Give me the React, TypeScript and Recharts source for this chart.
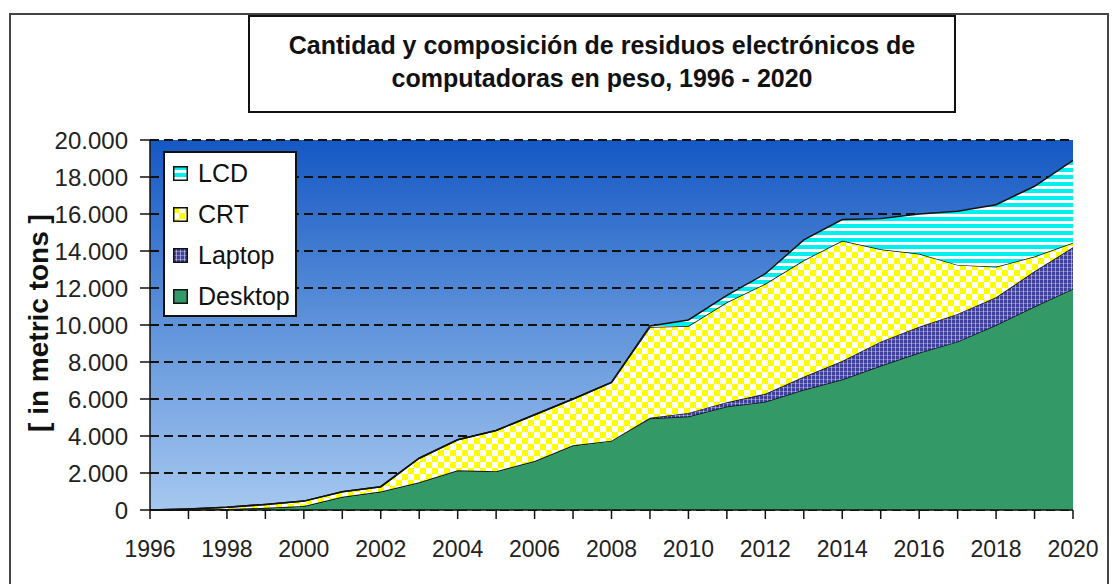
import { AreaChart, Area, XAxis, YAxis, CartesianGrid } from 'recharts';

const years = [
  1996, 1997, 1998, 1999, 2000, 2001, 2002, 2003, 2004, 2005, 2006, 2007, 2008,
  2009, 2010, 2011, 2012, 2013, 2014, 2015, 2016, 2017, 2018, 2019, 2020,
];
const desktop = [
  0, 20, 50, 120, 220, 720, 1000, 1500, 2150, 2100, 2650, 3500, 3750,
  4950, 5050, 5600, 5850, 6500, 7050, 7800, 8500, 9100, 10000, 11000, 11950,
];
const laptop = [
  0, 0, 0, 0, 0, 0, 0, 0, 0, 0, 0, 0, 0,
  40, 200, 230, 430, 700, 1000, 1300, 1400, 1500, 1500, 1900, 2250,
];
const crt = [
  0, 40, 100, 180, 260, 270, 260, 1300, 1650, 2200, 2500, 2500, 3150,
  4900, 4700, 5400, 5950, 6300, 6500, 5000, 3950, 2650, 1650, 800, 250,
];
const lcd = [
  0, 0, 0, 0, 0, 0, 0, 0, 0, 0, 0, 0, 0,
  60, 320, 370, 540, 1100, 1150, 1650, 2150, 2900, 3350, 3800, 4450,
];
const yTicks = [0, 2000, 4000, 6000, 8000, 10000, 12000, 14000, 16000, 18000, 20000];

const data = years.map((year, i) => ({
  year,
  desktop: desktop[i],
  laptop: laptop[i],
  crt: crt[i],
  lcd: lcd[i],
}));

// stacking order bottom -> top
const series = [
  { key: 'desktop', name: 'Desktop', fill: '#339966' },
  { key: 'laptop', name: 'Laptop', fill: 'url(#laptopPat)' },
  { key: 'crt', name: 'CRT', fill: 'url(#crtPat)' },
  { key: 'lcd', name: 'LCD', fill: 'url(#lcdPat)' },
];

const FONT = '"Liberation Sans", Arial, sans-serif';

const fmt = (v: number) => String(v).replace(/\B(?=(\d{3})+(?!\d))/g, '.');

function XTick({ x, y, payload }: any) {
  if (payload.value % 2 !== 0) return <g />;
  return (
    <text x={x} y={y} dy={36} textAnchor="middle" fill="#222" fontSize={23} fontFamily={FONT}>
      {payload.value}
    </text>
  );
}

export default function App() {
  return (
    <div style={{ position: 'absolute', left: 0, top: 0, width: 1114, height: 584, background: '#fff', overflow: 'hidden' }}>
      {/* outer frame */}
      <div
        style={{
          position: 'absolute',
          left: 9,
          top: 13,
          width: 1100,
          height: 600,
          border: '2px solid #444',
          boxSizing: 'border-box',
        }}
      />

      <div style={{ position: 'absolute', left: 0, top: 0 }}>
        <AreaChart width={1114} height={584} data={data} margin={{ top: 140, right: 41, bottom: 0, left: 0 }}>
          <defs>
            <linearGradient id="bg" x1="0" y1="0" x2="0" y2="1">
              <stop offset="0%" stopColor="#1558c4" />
              <stop offset="50%" stopColor="#5f93da" />
              <stop offset="100%" stopColor="#a6c8f0" />
            </linearGradient>
            <pattern id="lcdPat" width="7" height="7" patternUnits="userSpaceOnUse">
              <rect width="7" height="7" fill="#ffffff" />
              <rect width="7" height="4" fill="#00f0f0" />
            </pattern>
            <pattern id="crtPat" width="12" height="12" patternUnits="userSpaceOnUse">
              <rect width="12" height="12" fill="#ffffff" />
              <rect width="6" height="6" fill="#ffff00" />
              <rect x="6" y="6" width="6" height="6" fill="#ffff00" />
            </pattern>
            <pattern id="laptopPat" width="4" height="4" patternUnits="userSpaceOnUse">
              <rect width="4" height="4" fill="#40409f" />
              <rect x="3" width="1" height="4" fill="#ffffff" fillOpacity={0.45} />
              <rect y="3" width="4" height="1" fill="#ffffff" fillOpacity={0.3} />
            </pattern>
          </defs>
          <CartesianGrid
            vertical={false}
            fill="url(#bg)"
            stroke="#111"
            strokeWidth={2}
            strokeDasharray="9 5"
          />
          <XAxis
            dataKey="year"
            type="number"
            domain={[1996, 2020]}
            ticks={years}
            interval={0}
            height={74}
            tickSize={9}
            tick={<XTick />}
            tickLine={{ stroke: '#111', strokeWidth: 1.5 }}
            axisLine={{ stroke: '#111', strokeWidth: 1.5 }}
          />
          <YAxis
            type="number"
            domain={[0, 20000]}
            ticks={yTicks}
            width={150}
            tickSize={10}
            tickMargin={12}
            tickFormatter={fmt}
            tick={{ fill: '#222', fontSize: 24, fontFamily: FONT }}
            tickLine={{ stroke: '#111', strokeWidth: 1.5 }}
            axisLine={{ stroke: '#111', strokeWidth: 1.5 }}
            label={() => (
              <text
                x={38}
                y={323}
                transform="rotate(-90, 38, 323)"
                textAnchor="middle"
                dominantBaseline="central"
                fontSize={28}
                fontWeight="bold"
                fontFamily={FONT}
                fill="#111"
              >
                [ in metric tons ]
              </text>
            )}
          />
          {series.map((s) => (
            <Area
              key={s.key}
              type="linear"
              dataKey={s.key}
              name={s.name}
              stackId="1"
              fill={s.fill}
              fillOpacity={1}
              stroke="#111"
              strokeWidth={1.5}
              isAnimationActive={false}
            />
          ))}
        </AreaChart>
      </div>

      {/* title box */}
      <div
        style={{
          position: 'absolute',
          left: 248,
          top: 15,
          width: 708,
          height: 98,
          border: '2px solid #111',
          boxSizing: 'border-box',
          background: '#fff',
          textAlign: 'center',
          fontFamily: FONT,
          fontWeight: 'bold',
          fontSize: 25,
          lineHeight: '33px',
          paddingTop: 12,
          color: '#111',
        }}
      >
        Cantidad y composición de residuos electrónicos de
        <br />
        computadoras en peso, 1996 - 2020
      </div>

      {/* legend */}
      <div
        style={{
          position: 'absolute',
          left: 163,
          top: 151,
          width: 134,
          height: 166,
          border: '2px solid #111',
          boxSizing: 'border-box',
          background: '#fff',
          fontFamily: FONT,
        }}
      >
        {[...series].reverse().map((s) => (
          <div key={s.key} style={{ height: 41, display: 'flex', alignItems: 'center', paddingLeft: 8 }}>
            <svg width={15} height={15} style={{ flex: 'none' }}>
              <rect x={0.75} y={0.75} width={13.5} height={13.5} fill={s.fill} stroke="#111" strokeWidth={1.5} />
            </svg>
            <span style={{ marginLeft: 10, fontSize: 25, color: '#111' }}>{s.name}</span>
          </div>
        ))}
      </div>
    </div>
  );
}
